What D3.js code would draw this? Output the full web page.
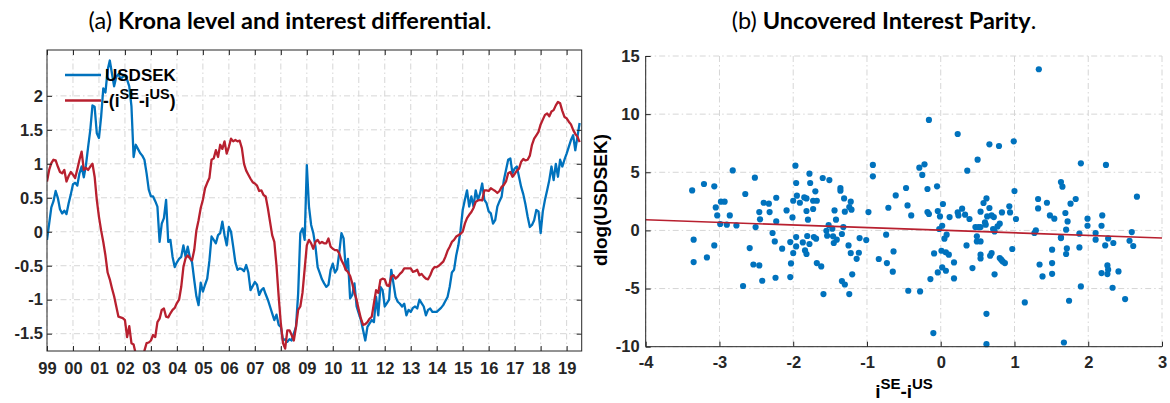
<!DOCTYPE html>
<html><head><meta charset="utf-8">
<script src="https://cdn.jsdelivr.net/npm/d3@7"></script>
<style>body{margin:0;background:#fff}svg{display:block}</style>
</head><body>
<svg id="c" width="1170" height="403"></svg>
<script>
// ---------- DATA ----------
// Panel (a): monthly series, Jan 1999 .. Jul 2019
const startYear = 1999;
const usdsek = [
 -0.12,0.12,0.36,0.45,0.60,0.50,0.33,0.27,0.31,0.26,0.42,0.55,
 0.70,0.72,0.68,0.86,0.96,0.80,0.98,1.25,1.50,1.86,1.84,1.45,
 1.38,1.69,2.11,2.05,2.38,2.52,2.33,2.14,2.28,2.32,2.25,2.28,
 2.30,2.24,2.14,1.85,1.10,1.28,1.22,1.16,1.12,1.06,0.86,0.62,
 0.52,0.52,0.45,0.37,-0.15,0.12,0.20,0.47,-0.15,-0.12,-0.37,-0.52,
 -0.45,-0.40,-0.37,-0.20,-0.37,-0.22,-0.38,-0.45,-0.71,-0.95,-1.08,-0.75,
 -0.88,-0.78,-0.69,-0.43,-0.07,-0.12,-0.17,-0.05,-0.02,0.15,-0.05,-0.20,
 0.07,0.00,-0.22,-0.45,-0.56,-0.54,-0.55,-0.58,-0.49,-0.60,-0.86,-0.80,
 -0.74,-0.78,-0.93,-0.86,-0.83,-0.92,-1.00,-1.10,-1.20,-1.30,-1.22,-1.37,
 -1.40,-1.60,-1.58,-1.62,-1.58,-1.60,-1.50,-1.40,-0.91,-0.02,0.05,-0.12,
 0.98,0.37,0.10,-0.02,-0.22,-0.52,-0.61,-0.70,-0.76,-0.81,-0.78,-0.56,
 -0.47,-0.60,-0.55,-0.30,-0.02,-0.10,-0.56,-0.40,-0.98,-0.93,-0.76,-1.10,
 -1.20,-1.30,-1.45,-1.60,-1.40,-1.35,-1.30,-1.33,-0.96,-1.23,-0.81,-0.86,
 -1.10,-1.05,-1.00,-0.56,-0.76,-0.96,-1.03,-1.06,-1.10,-1.06,-1.23,-1.15,
 -1.18,-1.12,-1.10,-1.13,-1.00,-1.05,-1.10,-1.23,-1.15,-1.13,-1.18,-1.18,
 -1.18,-1.15,-1.12,-1.08,-1.02,-0.96,-0.81,-0.60,-0.56,-0.35,-0.20,0.02,
 0.32,0.47,0.61,0.37,0.52,0.37,0.61,0.47,0.56,0.71,0.47,0.42,
 0.30,0.27,0.12,0.17,0.37,0.45,0.52,0.76,0.91,1.06,1.08,0.86,
 0.93,0.96,0.81,0.66,0.55,0.40,0.22,0.07,0.10,0.17,0.32,0.30,
 -0.02,0.30,0.47,0.61,0.76,0.96,0.76,1.00,0.81,1.06,0.96,1.06,
 1.15,1.25,1.35,1.42,1.20,1.40,1.60
];
const negDiff = [
 0.74,0.91,1.01,1.06,1.05,0.96,0.88,0.86,0.91,0.74,0.82,0.88,
 0.84,0.79,0.92,1.06,1.18,0.91,0.94,0.91,0.96,1.00,0.81,0.47,
 0.22,0.02,-0.15,-0.35,-0.60,-0.70,-0.83,-0.95,-1.10,-1.25,-1.26,-1.27,
 -1.30,-1.55,-1.39,-1.64,-1.66,-1.80,-1.85,-1.88,-1.85,-1.75,-1.64,-1.63,
 -1.60,-1.52,-1.55,-1.33,-1.28,-1.15,-1.13,-1.25,-1.26,-1.20,-1.15,-1.12,
 -1.05,-1.00,-0.81,-0.52,-0.39,-0.35,-0.39,-0.42,-0.27,0.02,0.17,0.35,
 0.47,0.64,0.72,0.79,1.06,1.08,1.20,1.10,1.28,1.22,1.33,1.15,
 1.25,1.37,1.33,1.35,1.33,1.34,1.23,1.00,0.90,0.84,0.78,0.73,
 0.71,0.68,0.60,0.61,0.54,0.52,0.35,0.15,-0.05,-0.15,-0.50,-0.95,
 -1.35,-1.64,-1.72,-1.45,-1.45,-1.52,-1.60,-1.40,-1.15,-1.10,-0.90,-0.55,
 -0.20,-0.12,-0.17,-0.25,-0.15,-0.12,-0.17,-0.15,-0.17,-0.17,-0.10,-0.22,
 -0.25,-0.27,-0.27,-0.32,-0.42,-0.48,-0.56,-0.59,-0.65,-0.76,-0.90,-1.00,
 -1.15,-1.28,-1.37,-1.36,-1.33,-1.28,-1.25,-1.05,-0.86,-0.90,-0.71,-0.69,
 -0.70,-0.79,-0.80,-0.66,-0.64,-0.69,-0.66,-0.62,-0.59,-0.54,-0.54,-0.54,
 -0.54,-0.59,-0.58,-0.56,-0.64,-0.62,-0.66,-0.69,-0.70,-0.64,-0.56,-0.52,
 -0.52,-0.50,-0.47,-0.44,-0.37,-0.28,-0.22,-0.15,-0.12,-0.07,-0.05,-0.03,
 0.00,0.12,0.20,0.25,0.29,0.35,0.44,0.46,0.47,0.46,0.61,0.61,
 0.60,0.64,0.62,0.60,0.57,0.60,0.66,0.69,0.74,0.86,0.88,0.81,
 0.85,0.90,0.93,1.03,1.07,1.05,1.06,1.12,1.28,1.37,1.42,1.47,
 1.58,1.65,1.72,1.74,1.70,1.77,1.79,1.86,1.91,1.89,1.78,1.69,
 1.67,1.62,1.58,1.50,1.44,1.40,1.32
];
const yearTicksA = [1999,2000,2001,2002,2003,2004,2005,2006,2007,2008,2009,2010,2011,2012,2013,2014,2015,2016,2017,2018,2019];
const yearLabelsA = ["99","00","01","02","03","04","05","06","07","08","09","10","11","12","13","14","15","16","17","18","19"];
const yTicksA = [-1.5,-1,-0.5,0,0.5,1,1.5,2];
const legendA = ["USDSEK", "-(i", "SE", "-i", "US", ")"];

// Panel (b): scatter of [i_SE - i_US, dlog(USDSEK)]
const uipPairs = [
 [-3.37,3.44],[-3.21,3.99],[-3.07,3.79],[-2.82,5.16],[-3.05,1.98],[-2.98,2.47],[-2.93,2.47],[-3.03,1.29],[-2.86,1.29],[-2.99,0.55],
 [-2.90,0.49],[-2.77,0.43],[-2.65,3.13],[-2.52,4.54],[-2.51,0.29],[-2.46,1.58],[-2.45,0.95],[-2.40,2.38],[-2.33,2.30],[-2.32,1.58],
 [-2.23,2.81],[-2.23,0.77],[-2.28,-0.22],[-2.09,1.72],[-2.01,1.12],[-2.00,2.55],[-1.97,5.57],[-1.96,4.08],[-1.95,2.99],[-1.91,2.38],
 [-1.85,2.84],[-1.82,2.75],[-1.82,1.67],[-1.80,0.92],[-1.78,4.88],[-1.77,4.08],[-1.73,2.55],[-1.68,2.55],[-1.70,3.36],[-1.73,1.84],
 [-1.60,4.51],[-1.51,4.33],[-1.44,1.72],[-1.36,3.65],[-1.36,3.42],[-1.31,2.75],[-1.30,1.61],[-1.24,2.01],[-1.22,2.47],[-1.21,1.78],
 [-0.98,1.58],[-0.92,5.63],[-0.92,4.65],[-1.52,0.46],[-1.47,0.15],[-1.42,0.92],[-1.55,-0.03],[-1.32,0.29],
 [-3.35,-0.80],[-3.35,-2.72],[-3.07,-1.29],[-3.17,-2.32],[-2.68,-4.78],[-2.59,-1.52],[-2.54,-2.93],[-2.46,-3.01],[-2.42,-4.33],[-2.25,-0.95],
 [-2.24,-4.07],[-2.15,-1.57],[-2.04,-4.01],[-2.04,-1.00],[-2.03,-2.84],[-2.00,-1.95],[-1.96,-0.57],[-1.96,-1.38],[-1.87,-1.03],[-1.84,-1.72],
 [-1.82,-2.03],[-1.81,-0.48],[-1.78,-1.17],[-1.72,-0.57],[-1.69,-0.71],[-1.68,-2.81],[-1.62,-3.10],[-1.59,-5.47],[-1.54,-0.46],[-1.46,-0.51],
 [-1.45,-1.08],[-1.41,-0.80],[-1.34,-0.31],[-1.34,-4.36],[-1.30,-4.65],[-1.25,-1.29],[-1.24,-5.47],[-1.22,-1.95],[-1.20,-3.78],[-1.14,-2.44],
 [-1.11,-1.92],[-1.10,-0.66],[-1.01,-0.83],[-0.84,-2.46],
 [1.33,13.86],[-0.16,9.50],[0.23,8.29],[0.66,7.40],[0.79,7.26],[0.99,7.66],[0.50,6.08],[0.36,5.14],[1.90,5.77],[2.24,5.63],
 [-0.29,5.40],[-0.22,5.68],[-0.25,4.77],[-0.47,3.65],[-0.61,3.01],[-0.18,3.56],[-0.05,3.79],[-0.45,2.15],[-0.71,1.95],[-0.40,1.29],
 [-0.18,1.58],[-0.16,1.41],[-0.04,1.67],[0.03,2.27],[-0.01,1.20],[0.12,1.15],[0.23,1.55],[0.24,1.29],[0.29,1.87],[0.33,1.35],
 [0.39,0.98],[0.58,2.36],[0.62,2.75],[0.66,1.93],[0.54,1.61],[0.63,1.20],[0.69,1.29],[0.72,1.15],[0.83,1.55],[0.93,2.07],
 [0.94,1.55],[1.00,3.39],[1.02,0.98],[1.32,2.70],[1.32,1.89],[1.44,2.38],[1.48,1.29],[1.54,1.01],[1.63,4.16],[1.65,3.76],
 [1.69,1.50],[1.72,0.77],[1.76,2.30],[1.83,2.70],[1.99,1.01],[1.99,0.40],[2.19,1.29],[2.18,0.40],[2.66,2.90],[-0.02,0.12],
 [0.02,0.40],[0.08,-0.37],[-0.74,-0.37],[0.47,0.29],[0.51,0.29],[0.54,0.29],[0.60,0.69],[0.61,0.49],[0.71,0.12],[0.73,-0.09],
 [0.77,0.34],[0.80,0.58],[0.49,-0.51],[1.29,0.00],[1.27,-0.22],[1.70,0.06],[1.88,-0.28],[2.10,-0.22],[2.59,-0.14],[1.63,-0.60],
 [-0.73,-2.81],[-0.64,-1.81],[-0.65,-3.55],[-0.44,-5.19],[-0.28,-5.25],[-0.14,-4.18],[-0.09,-1.98],[-0.10,-8.83],[-0.04,-3.61],[0.01,-1.75],
 [0.02,-3.18],[0.07,-3.47],[0.07,-1.89],[0.11,-2.09],[0.18,-2.75],[0.18,-4.13],[0.05,-0.71],[0.35,-1.29],[0.43,-3.24],[0.49,-0.95],
 [0.54,-0.95],[0.54,-2.09],[0.54,-2.41],[0.62,-7.17],[0.62,-9.78],[0.67,-2.18],[0.69,-1.95],[0.73,-3.78],[0.80,-2.38],[0.82,-2.52],
 [0.84,-2.67],[0.87,-2.81],[0.97,-1.60],[1.14,-6.19],[1.34,-2.93],[1.38,-3.96],[1.51,-1.66],[1.51,-2.81],[1.51,-3.73],[1.63,-0.66],
 [1.71,-1.55],[1.70,-2.03],[1.74,-6.05],[1.67,-9.64],[1.88,-1.46],[1.90,-4.82],[2.10,-0.80],[2.18,-3.67],[2.26,-3.01],[2.27,-3.38],
 [2.26,-3.75],[2.23,-1.29],[2.27,-0.69],[2.34,-1.08],[2.33,-4.93],[2.41,-3.53],[2.50,-5.90],[2.56,-0.89],[2.61,-1.34]
];
const fitLine = { intercept: 0.02, slope: -0.224 };
const xTicksB = [-4,-3,-2,-1,0,1,2,3];
const yTicksB = [-10,-5,0,5,10,15];

// ---------- STYLE ----------
const BLUE = "#0072BD", RED = "#B8202F", AX = "#262626", GRID = "#d6d6d6";
const TICKFONT = "'Liberation Sans', Arial, Helvetica, sans-serif";
const TITLEFONT = "Lato, 'Open Sans', sans-serif";
const svg = d3.select("#c");

function styleAxis(g, fs) {
  g.select(".domain").remove();
  g.selectAll(".tick line").attr("stroke", AX).attr("stroke-width", 1);
  g.selectAll(".tick text").attr("fill", AX).attr("font-family", TICKFONT)
    .attr("font-weight", "bold").attr("font-size", fs);
}

// ---------- PANEL (a) ----------
const A = { l: 47, r: 581.7, t: 50, b: 351 };
const xA = d3.scaleLinear().domain([1999, 2019.58]).range([A.l, A.r]);
const yA = d3.scaleLinear().domain([-1.755, 2.675]).range([A.b, A.t]);
const gA = svg.append("g");

gA.append("g").selectAll("line").data(yearTicksA).join("line")
  .attr("x1", d => xA(d)).attr("x2", d => xA(d)).attr("y1", A.t).attr("y2", A.b)
  .attr("stroke", GRID).attr("stroke-dasharray", "6,3,1.5,3");
gA.append("g").selectAll("line").data(yTicksA).join("line")
  .attr("y1", d => yA(d)).attr("y2", d => yA(d)).attr("x1", A.l).attr("x2", A.r)
  .attr("stroke", GRID).attr("stroke-dasharray", "6,3,1.5,3");

svg.append("clipPath").attr("id", "clipA").append("rect")
  .attr("x", A.l).attr("y", A.t).attr("width", A.r - A.l).attr("height", A.b - A.t);

const dateOf = i => startYear + i / 12;
const lineA = d3.line().x((d, i) => xA(dateOf(i))).y(d => yA(d));
const series = gA.append("g").attr("clip-path", "url(#clipA)");
series.append("path").datum(usdsek).attr("d", lineA)
  .attr("fill", "none").attr("stroke", BLUE).attr("stroke-width", 2.3).attr("stroke-linejoin", "round");
series.append("path").datum(negDiff).attr("d", lineA)
  .attr("fill", "none").attr("stroke", RED).attr("stroke-width", 2.3).attr("stroke-linejoin", "round");

const fmtY = d => String(d);
const axB = gA.append("g").attr("transform", `translate(0,${A.b})`)
  .call(d3.axisBottom(xA).tickValues(yearTicksA).tickSize(-5).tickPadding(11)
    .tickFormat((d, i) => yearLabelsA[i]));
styleAxis(axB, 16.5);
const axT = gA.append("g").attr("transform", `translate(0,${A.t})`)
  .call(d3.axisTop(xA).tickValues(yearTicksA).tickSize(-5).tickFormat(""));
styleAxis(axT, 16);
const axL = gA.append("g").attr("transform", `translate(${A.l},0)`)
  .call(d3.axisLeft(yA).tickValues(yTicksA).tickSize(-5).tickPadding(4).tickFormat(fmtY));
styleAxis(axL, 16.5);
const axR = gA.append("g").attr("transform", `translate(${A.r},0)`)
  .call(d3.axisRight(yA).tickValues(yTicksA).tickSize(-5).tickFormat(""));
styleAxis(axR, 16);
gA.append("rect").attr("x", A.l).attr("y", A.t).attr("width", A.r - A.l).attr("height", A.b - A.t)
  .attr("fill", "none").attr("stroke", AX).attr("stroke-width", 1);

// legend
const lg = gA.append("g").attr("font-family", TICKFONT).attr("font-weight", "bold").attr("fill", "#000");
lg.append("line").attr("x1", 65).attr("x2", 101).attr("y1", 75).attr("y2", 75).attr("stroke", BLUE).attr("stroke-width", 2.3);
lg.append("text").attr("x", 105).attr("y", 81).attr("font-size", 17).text(legendA[0]);
lg.append("line").attr("x1", 65).attr("x2", 101).attr("y1", 100.5).attr("y2", 100.5).attr("stroke", RED).attr("stroke-width", 2.3);
const t2 = lg.append("text").attr("x", 103).attr("y", 107).attr("font-size", 17.5);
t2.append("tspan").text(legendA[1]);
t2.append("tspan").attr("font-size", 14.5).attr("dy", -8).text(legendA[2]);
t2.append("tspan").attr("dy", 8).text(legendA[3]);
t2.append("tspan").attr("font-size", 14.5).attr("dy", -8).text(legendA[4]);
t2.append("tspan").attr("dy", 8).text(legendA[5]);

// title
const ttA = svg.append("text").attr("x", 290).attr("y", 29).attr("text-anchor", "middle")
  .attr("font-family", TITLEFONT).attr("font-size", 23.5).attr("fill", "#000");
ttA.append("tspan").text("(a) ");
ttA.append("tspan").attr("font-weight", "bold").text("Krona level and interest differential");
ttA.append("tspan").text(".");

// ---------- PANEL (b) ----------
const B = { l: 645.7, r: 1162, t: 56, b: 346.7 };
const xB = d3.scaleLinear().domain([-4, 3]).range([B.l, B.r]);
const yB = d3.scaleLinear().domain([-10, 15]).range([B.b, B.t]);
const gB = svg.append("g");

gB.append("g").selectAll("line").data(xTicksB).join("line")
  .attr("x1", d => xB(d)).attr("x2", d => xB(d)).attr("y1", B.t).attr("y2", B.b)
  .attr("stroke", GRID).attr("stroke-dasharray", "6,3,1.5,3");
gB.append("g").selectAll("line").data(yTicksB).join("line")
  .attr("y1", d => yB(d)).attr("y2", d => yB(d)).attr("x1", B.l).attr("x2", B.r)
  .attr("stroke", GRID).attr("stroke-dasharray", "6,3,1.5,3");

gB.append("g").selectAll("circle").data(uipPairs).join("circle")
  .attr("cx", d => xB(d[0])).attr("cy", d => yB(d[1])).attr("r", 3.1).attr("fill", BLUE);

const fitX = xB.domain();
gB.append("line")
  .attr("x1", xB(fitX[0])).attr("y1", yB(fitLine.intercept + fitLine.slope * fitX[0]))
  .attr("x2", xB(fitX[1])).attr("y2", yB(fitLine.intercept + fitLine.slope * fitX[1]))
  .attr("stroke", RED).attr("stroke-width", 1.6);

const bxB = gB.append("g").attr("transform", `translate(0,${B.b})`)
  .call(d3.axisBottom(xB).tickValues(xTicksB).tickSize(-5).tickPadding(10).tickFormat(d => String(d)));
styleAxis(bxB, 16.5);
const byB = gB.append("g").attr("transform", `translate(${B.l},0)`)
  .call(d3.axisLeft(yB).tickValues(yTicksB).tickSize(-5).tickPadding(6).tickFormat(d => String(d)));
styleAxis(byB, 16.5);
gB.append("line").attr("x1", B.l).attr("x2", B.l).attr("y1", B.t).attr("y2", B.b).attr("stroke", AX);
gB.append("line").attr("x1", B.l).attr("x2", B.r).attr("y1", B.b).attr("y2", B.b).attr("stroke", AX);

// axis titles
svg.append("text").attr("transform", "translate(607,200) rotate(-90)").attr("text-anchor", "middle")
  .attr("font-family", TICKFONT).attr("font-weight", "bold").attr("font-size", 19).attr("fill", "#000")
  .text("dlog(USDSEK)");
const xl = svg.append("text").attr("x", 904).attr("y", 398).attr("text-anchor", "middle")
  .attr("font-family", TICKFONT).attr("font-weight", "bold").attr("font-size", 19).attr("fill", "#000");
xl.append("tspan").text("i");
xl.append("tspan").attr("font-size", 15).attr("dy", -9).text("SE");
xl.append("tspan").attr("dy", 9).text("-i");
xl.append("tspan").attr("font-size", 15).attr("dy", -9).text("US");

const ttB = svg.append("text").attr("x", 884).attr("y", 29).attr("text-anchor", "middle")
  .attr("font-family", TITLEFONT).attr("font-size", 23.5).attr("fill", "#000");
ttB.append("tspan").text("(b) ");
ttB.append("tspan").attr("font-weight", "bold").text("Uncovered Interest Parity");
ttB.append("tspan").text(".");
</script>
</body></html>
